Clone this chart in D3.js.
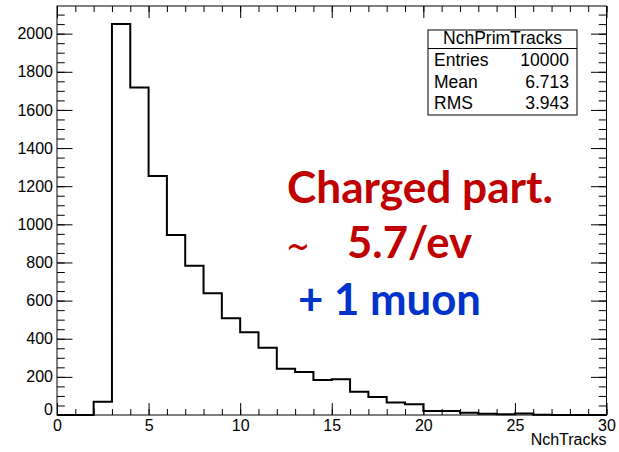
<!DOCTYPE html>
<html>
<head>
<meta charset="utf-8">
<script src="https://cdn.jsdelivr.net/npm/d3@7"></script>
<style>
    body { margin: 0; background: #fff; }
    svg { display: block; font-family: "Liberation Sans", Arial, Helvetica, sans-serif; }
</style>
</head>
<body>
<div id="chart"></div>
<script>
"use strict";

// NchPrimTracks: one bin per track count, 0..30
const binEdges = d3.range(0, 31);
const binCounts = [0, 0, 70, 2050, 1718, 1254, 944, 783, 638, 507,
                   434, 353, 243, 225, 184, 187, 122, 94, 65, 56,
                   21, 21, 12, 6, 4, 8, 1, 0, 0, 0];

const xMajorTicks = [0, 5, 10, 15, 20, 25, 30];
const yMajorTicks = [0, 200, 400, 600, 800, 1000, 1200, 1400, 1600, 1800, 2000];

const statsTitle = "NchPrimTracks";
const statsNames = ["Entries", "Mean", "RMS"];
const statsValues = ["10000", "6.713", "3.943"];

const xTitle = "NchTracks";

(function () {
    const width = 619;
    const height = 452;
    const left = 57, right = 606.5, top = 6, bottom = 415;

    const svg = d3.select("#chart").append("svg")
        .attr("width", width)
        .attr("height", height);

    const x = d3.scaleLinear().domain([0, 30]).range([left, right]);
    const y = d3.scaleLinear().domain([0, 2145]).range([bottom, top]);

    const yTickLen = 15.5;
    const xTickLen = 12;

    function styleAxis(g) {
        g.attr("font-family", null).attr("font-size", null);
        g.select(".domain").remove();
        g.selectAll(".tick line").attr("stroke", "#000").attr("stroke-width", 1);
        g.selectAll("text")
            .attr("fill", "#000")
            .style("font-size", "16px")
            .style("font-family", "\"Liberation Sans\", Arial, sans-serif");
    }

    // bottom axis, ticks pointing into the frame
    svg.append("g")
        .attr("transform", `translate(0,${bottom})`)
        .call(d3.axisBottom(x).tickValues(d3.range(0, 31)).tickSize(-xTickLen / 2).tickFormat(""))
        .call(styleAxis);
    svg.append("g")
        .attr("transform", `translate(0,${bottom})`)
        .call(d3.axisBottom(x).tickValues(xMajorTicks).tickSize(-xTickLen).tickPadding(5).tickFormat(d3.format("d")))
        .call(styleAxis);

    // top axis mirror ticks
    svg.append("g")
        .attr("transform", `translate(0,${top})`)
        .call(d3.axisTop(x).tickValues(d3.range(0, 31)).tickSize(-xTickLen / 2).tickFormat(""))
        .call(styleAxis);
    svg.append("g")
        .attr("transform", `translate(0,${top})`)
        .call(d3.axisTop(x).tickValues(xMajorTicks).tickSize(-xTickLen).tickFormat(""))
        .call(styleAxis);

    // left axis
    svg.append("g")
        .attr("transform", `translate(${left},0)`)
        .call(d3.axisLeft(y).tickValues(d3.range(0, 2145, 50)).tickSize(-yTickLen / 2).tickFormat(""))
        .call(styleAxis);
    const yAxis = svg.append("g")
        .attr("transform", `translate(${left},0)`)
        .call(d3.axisLeft(y).tickValues(yMajorTicks).tickSize(-yTickLen).tickPadding(4).tickFormat(d3.format("d")))
        .call(styleAxis);
    // zero label sits a little above the corner
    yAxis.selectAll(".tick").filter(d => d === 0).select("text").attr("y", -6);

    // right axis mirror ticks
    svg.append("g")
        .attr("transform", `translate(${right},0)`)
        .call(d3.axisRight(y).tickValues(d3.range(0, 2145, 50)).tickSize(-yTickLen / 2).tickFormat(""))
        .call(styleAxis);
    svg.append("g")
        .attr("transform", `translate(${right},0)`)
        .call(d3.axisRight(y).tickValues(yMajorTicks).tickSize(-yTickLen).tickFormat(""))
        .call(styleAxis);

    // frame
    svg.append("rect")
        .attr("x", left).attr("y", top)
        .attr("width", right - left).attr("height", bottom - top)
        .attr("fill", "none").attr("stroke", "#000").attr("stroke-width", 1);

    // histogram outline as a step line
    const steps = [[0, 0]];
    binCounts.forEach((c, i) => {
        steps.push([binEdges[i], c]);
        steps.push([binEdges[i + 1], c]);
    });
    steps.push([30, 0]);

    const line = d3.line()
        .x(d => x(d[0]))
        .y(d => y(d[1]));

    svg.append("path")
        .datum(steps)
        .attr("d", line)
        .attr("fill", "none")
        .attr("stroke", "#000")
        .attr("stroke-width", 2)
        .attr("stroke-linejoin", "miter");

    // x axis title
    svg.append("text")
        .attr("x", right)
        .attr("y", 445)
        .attr("text-anchor", "end")
        .style("font-size", "16px")
        .text(xTitle);

    // stats box
    const box = svg.append("g");
    const bx0 = 428, bx1 = 577, by0 = 30, byHead = 48.5, by1 = 115;
    box.append("rect")
        .attr("x", bx0).attr("y", by0)
        .attr("width", bx1 - bx0).attr("height", by1 - by0)
        .attr("fill", "#fff").attr("stroke", "#000").attr("stroke-width", 1);
    box.append("line")
        .attr("x1", bx0).attr("x2", bx1)
        .attr("y1", byHead).attr("y2", byHead)
        .attr("stroke", "#000");
    box.append("text")
        .attr("x", (bx0 + bx1) / 2)
        .attr("y", 44)
        .attr("text-anchor", "middle")
        .style("font-size", "17.5px")
        .text(statsTitle);
    const rowY = [65.5, 87.5, 108.5];
    statsNames.forEach((name, i) => {
        box.append("text")
            .attr("x", 434).attr("y", rowY[i])
            .style("font-size", "17.5px")
            .text(name);
        box.append("text")
            .attr("x", 569).attr("y", rowY[i])
            .attr("text-anchor", "end")
            .style("font-size", "17.5px")
            .text(statsValues[i]);
    });

    // annotation, a rounder bold face
    const noteFont = "Lato, \"Open Sans\", sans-serif";
    function note(txt, xPos, yPos, colour, len) {
        return svg.append("text")
            .attr("x", xPos).attr("y", yPos)
            .attr("fill", colour)
            .attr("textLength", len).attr("lengthAdjust", "spacingAndGlyphs")
            .style("font-family", noteFont)
            .style("font-weight", "bold")
            .style("font-size", "43px")
            .text(txt);
    }
    note("Charged part.", 287, 203, "#c00000", 266);
    note("5.7/ev", 347, 258, "#c00000", 125);
    note("+ 1 muon", 298, 315, "#0033cc", 183);

    svg.append("text")
        .attr("x", 286).attr("y", 260)
        .attr("fill", "#c00000")
        .attr("textLength", 24).attr("lengthAdjust", "spacingAndGlyphs")
        .style("font-family", "\"DejaVu Sans\", sans-serif")
        .style("font-size", "40px")
        .text("~");
})();
</script>
</body>
</html>
